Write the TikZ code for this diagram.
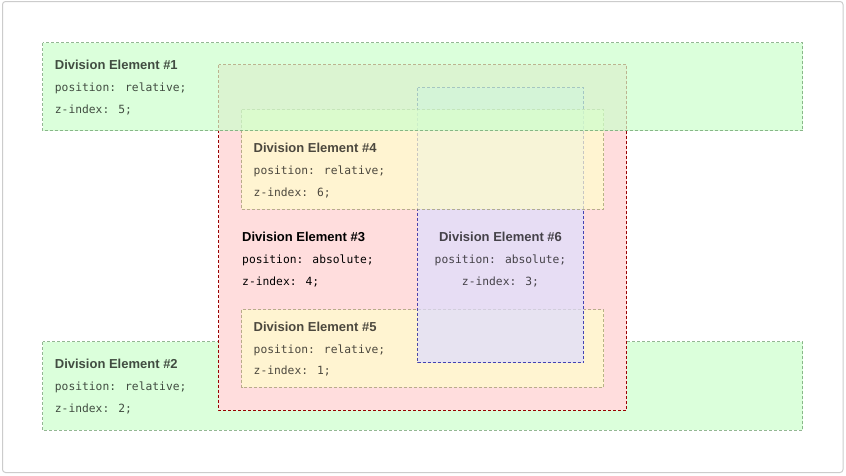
\documentclass[tikz,border=0pt]{standalone}
\usepackage{fontspec}
\setmainfont{Liberation Sans}
\newfontfamily\codefont{DejaVu Sans Mono}
\begin{document}
\begin{tikzpicture}[x=1pt,y=-1pt,
  divbox/.style={line width=1pt,dash pattern=on 3pt off 2pt},
  greenbox/.style={divbox,fill=GreenF,draw=GreenB,opacity=0.7},
  yellowbox/.style={divbox,fill=YellowF,draw=YellowB,opacity=0.7},
  title/.style={anchor=base west,inner sep=0pt,font=\bfseries\fontsize{13}{15}\selectfont},
  code/.style={anchor=base west,inner sep=0pt,font=\codefont\fontsize{11.3}{13}\selectfont},
  faded/.style={text opacity=0.7}]
\definecolor{GreenF}{HTML}{CCFFCC}
\definecolor{GreenB}{HTML}{669966}
\definecolor{PinkF}{HTML}{FFDDDD}
\definecolor{PinkB}{HTML}{990000}
\definecolor{YellowF}{HTML}{FFFFCC}
\definecolor{YellowB}{HTML}{999966}
\definecolor{LavF}{HTML}{DDDDFF}
\definecolor{LavB}{HTML}{000099}
\definecolor{FrameC}{HTML}{CCCCCC}
\useasboundingbox (0,0) rectangle (846,475);
\fill[white] (0,0) rectangle (846,475);
\draw[FrameC,line width=1pt,rounded corners=3pt] (2.5,1.5) rectangle (843,472.5);
% Div 2 (z-index 2)
\path[greenbox] (42.5,341.5) rectangle (802.5,430);
% Div 3 (z-index 4, opaque)
\path[divbox,fill=PinkF,draw=PinkB] (218.5,64.5) rectangle (626.5,410);
% Div 5 (z-index 1 in div 3)
\path[yellowbox] (241.5,309.5) rectangle (603.5,387);
% Div 6 (z-index 3 in div 3)
\path[divbox,fill=LavF,draw=LavB,opacity=0.7] (417.5,87.5) rectangle (583.5,362.5);
% Div 4 (z-index 6 in div 3)
\path[yellowbox] (241.5,109.5) rectangle (603.5,209);
% Div 1 (z-index 5)
\path[greenbox] (42.5,42.5) rectangle (802.5,130.5);
% Texts
\node[title,faded] (t1) at (54.7,69.5) {Division Element \#1};
\node[code,faded] (p1) at (54.7,91.5) {position: relative;};
\node[code,faded] (z1) at (54.7,113) {z-index: 5;};
\node[title,faded] (t2) at (54.7,368.7) {Division Element \#2};
\node[code,faded] (p2) at (54.7,390.7) {position: relative;};
\node[code,faded] (z2) at (54.7,412.2) {z-index: 2;};
\node[title] (t3) at (242,241.7) {Division Element \#3};
\node[code] (p3) at (242,263.5) {position: absolute;};
\node[code] (z3) at (242,285) {z-index: 4;};
\node[title,faded] (t4) at (253.5,152.7) {Division Element \#4};
\node[code,faded] (p4) at (253.5,174.5) {position: relative;};
\node[code,faded] (z4) at (253.5,196) {z-index: 6;};
\node[title,faded] (t5) at (253.5,331) {Division Element \#5};
\node[code,faded] (p5) at (253.5,353) {position: relative;};
\node[code,faded] (z5) at (253.5,374.5) {z-index: 1;};
\node[title,faded,anchor=base] (t6) at (500.5,241.7) {Division Element \#6};
\node[code,faded,anchor=base] (p6) at (500.5,263.5) {position: absolute;};
\node[code,faded,anchor=base] (z6) at (500.5,285) {z-index: 3;};
\end{tikzpicture}
\end{document}
